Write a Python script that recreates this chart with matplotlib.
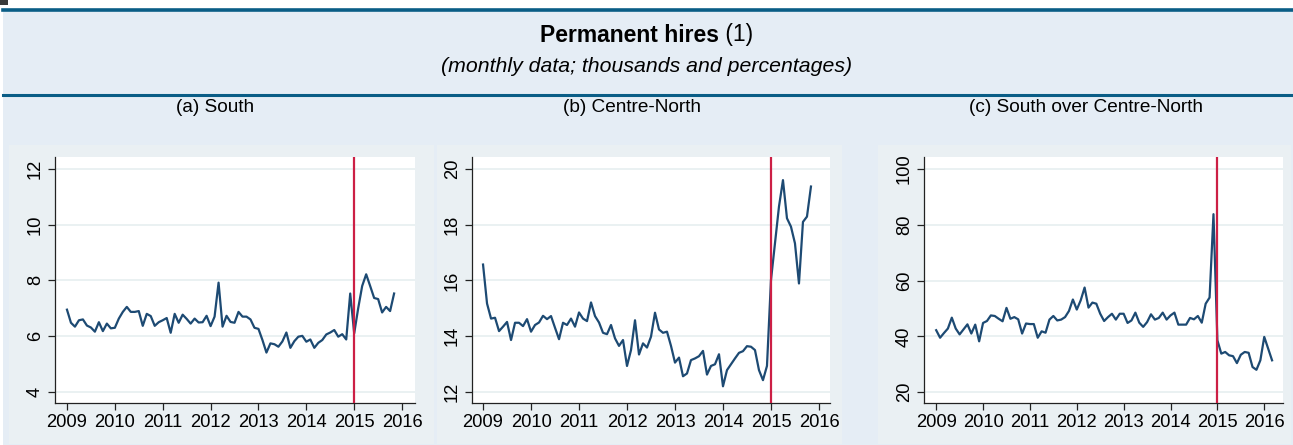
import numpy as np
import matplotlib
matplotlib.use('Agg')
import matplotlib.pyplot as plt
from matplotlib.patches import Rectangle
from matplotlib.lines import Line2D

plt.rcParams['font.family'] = ['Liberation Sans', 'DejaVu Sans']

# monthly data starting January 2009
start_year = 2009

# (a) South, thousands, Jan 2009 - Nov 2015
south = [
    6.95, 6.48, 6.34, 6.57, 6.60, 6.38, 6.31, 6.16, 6.50, 6.18, 6.45, 6.28,
    6.30, 6.63, 6.87, 7.05, 6.87, 6.87, 6.90, 6.37, 6.80, 6.72, 6.37, 6.50,
    6.57, 6.65, 6.12, 6.80, 6.48, 6.77, 6.62, 6.45, 6.63, 6.49, 6.50, 6.73,
    6.36, 6.70, 7.92, 6.34, 6.73, 6.51, 6.48, 6.87, 6.70, 6.70, 6.60, 6.30,
    6.26, 5.86, 5.41, 5.74, 5.71, 5.62, 5.81, 6.13, 5.58, 5.82, 5.98, 6.01,
    5.80, 5.88, 5.58, 5.76, 5.86, 6.06, 6.13, 6.22, 5.98, 6.07, 5.88, 7.53,
    6.10, 7.00, 7.80, 8.22, 7.80, 7.37, 7.33, 6.85, 7.05, 6.90, 7.53,
]

# (b) Centre-North, thousands, Jan 2009 - Nov 2015
centre_north = [
    16.57, 15.17, 14.63, 14.66, 14.18, 14.34, 14.51, 13.86, 14.48, 14.48, 14.36, 14.61,
    14.16, 14.40, 14.49, 14.73, 14.61, 14.72, 14.30, 13.89, 14.48, 14.40, 14.63, 14.34,
    14.85, 14.63, 14.54, 15.21, 14.72, 14.49, 14.12, 14.07, 14.40, 13.92, 13.65, 13.86,
    12.93, 13.50, 14.57, 13.34, 13.74, 13.59, 13.98, 14.84, 14.24, 14.12, 14.16, 13.65,
    13.05, 13.23, 12.56, 12.66, 13.14, 13.20, 13.28, 13.47, 12.62, 12.93, 12.99, 13.35,
    12.20, 12.78, 12.99, 13.20, 13.40, 13.46, 13.64, 13.62, 13.50, 12.78, 12.42, 12.93,
    16.01, 17.33, 18.65, 19.60, 18.23, 17.93, 17.33, 15.89, 18.10, 18.29, 19.37,
]

# (c) South over Centre-North, percent, Jan 2009 - Mar 2016
ratio = [
    42.2, 39.5, 41.2, 42.8, 46.7, 42.8, 40.7, 42.5, 44.3, 41.0, 44.2, 38.2,
    44.8, 45.5, 47.5, 47.3, 46.3, 45.4, 50.2, 46.3, 46.9, 46.1, 41.0, 44.6,
    44.4, 44.4, 39.5, 41.8, 41.3, 46.0, 47.3, 45.7, 46.0, 46.9, 49.1, 53.2,
    49.6, 52.9, 57.5, 50.3, 52.1, 51.7, 48.1, 45.5, 46.9, 48.1, 46.0, 48.1,
    48.1, 44.8, 45.7, 48.5, 44.9, 43.4, 45.1, 47.9, 46.0, 46.6, 48.5, 46.0,
    47.5, 48.5, 44.2, 44.2, 44.2, 46.6, 46.1, 47.3, 44.9, 51.7, 53.9, 83.8,
    38.6, 33.8, 34.4, 33.2, 32.9, 30.4, 33.4, 34.4, 34.1, 29.0, 28.0, 31.4,
    39.8, 35.6, 31.4,
]

panel_titles = ['(a) South', '(b) Centre-North', '(c) South over Centre-North']
year_ticks = [2009, 2010, 2011, 2012, 2013, 2014, 2015, 2016]
south_yticks = [4, 6, 8, 10, 12]
cn_yticks = [12, 14, 16, 18, 20]
ratio_yticks = [20, 40, 60, 80, 100]
reform_year = 2015

W, H = 1293, 445
HEADER_BG = '#e5edf5'
PANEL_BG = '#eaf0f3'
RULE = '#0a5d86'
LINE = '#1d4a73'
RED = '#cc1f45'


def fx(px):
    return px / W


def fy(py):
    return 1 - py / H


fig = plt.figure(figsize=(W / 100, H / 100), dpi=100, facecolor='white')

# header / background areas
fig.add_artist(Rectangle((fx(3), 0), 1 - fx(3), fy(9), transform=fig.transFigure,
                         facecolor=HEADER_BG, edgecolor='none', zorder=0))
fig.add_artist(Rectangle((0, fy(5)), fx(8), 5 / H, transform=fig.transFigure,
                         facecolor='#3a3a3a', edgecolor='none', zorder=0))
for x0, x1 in [(9, 434), (437, 842), (878, 1291)]:
    fig.add_artist(Rectangle((fx(x0), fy(444)), fx(x1 - x0), (444 - 145) / H,
                             transform=fig.transFigure, facecolor=PANEL_BG,
                             edgecolor='none', zorder=0))
fig.add_artist(Line2D([fx(3), 1], [fy(9.5), fy(9.5)], transform=fig.transFigure,
                      color=RULE, lw=2.6))
fig.add_artist(Line2D([fx(3), 1], [fy(95), fy(95)], transform=fig.transFigure,
                      color=RULE, lw=2.2))

# title: bold part + regular part, centred together
t1 = fig.text(0.5, fy(35), 'Permanent hires', fontsize=16.5, fontweight='bold',
              ha='right', va='center')
t2 = fig.text(0.5, fy(35), ' (1)', fontsize=16.5, ha='left', va='center')
fig.canvas.draw()
r = fig.canvas.get_renderer()
w1 = t1.get_window_extent(r).width / W
w2 = t2.get_window_extent(r).width / W
shift = (w1 - w2) / 2
t1.set_x(0.5 + shift)
t2.set_x(0.5 + shift)
fig.text(0.5, fy(66), '(monthly data; thousands and percentages)', fontsize=15.3,
         style='italic', ha='center', va='center')

panels = [
    (55, 415, south, south_yticks, (3.6, 12.43), (2008.75, 2016.27)),
    (472, 830, centre_north, cn_yticks, (11.6, 20.43), (2008.77, 2016.23)),
    (924, 1283, ratio, ratio_yticks, (16.1, 104.3), (2008.74, 2016.40)),
]
title_x = [215, 632, 1086]

for (left, right, values, yticks, ylim, xlim), title, tx in zip(panels, panel_titles, title_x):
    ax = fig.add_axes([fx(left), fy(403), fx(right - left), (403 - 157) / H])
    ax.set_facecolor('white')
    x = start_year + np.arange(len(values)) / 12
    ax.plot(x, values, color=LINE, lw=1.6, zorder=3)
    ax.axvline(reform_year, color=RED, lw=1.6, zorder=4)
    ax.set_xlim(*xlim)
    ax.set_ylim(*ylim)
    ax.set_xticks(year_ticks)
    ax.set_yticks(yticks)
    ax.set_yticklabels([str(v) for v in yticks], rotation=90, va='center')
    ax.grid(axis='y', color='#e8f0f1', lw=1.3, zorder=0)
    ax.grid(axis='x', visible=False)
    for s in ['top', 'right']:
        ax.spines[s].set_visible(False)
    for s in ['left', 'bottom']:
        ax.spines[s].set_color('#222222')
        ax.spines[s].set_linewidth(0.9)
    ax.tick_params(axis='both', direction='out', length=5, width=0.9,
                   color='#222222', labelsize=13.2, pad=3)
    fig.text(fx(tx), fy(107), title, fontsize=13.7, ha='center', va='center')

fig.savefig('out.png', dpi=100, facecolor='white')
